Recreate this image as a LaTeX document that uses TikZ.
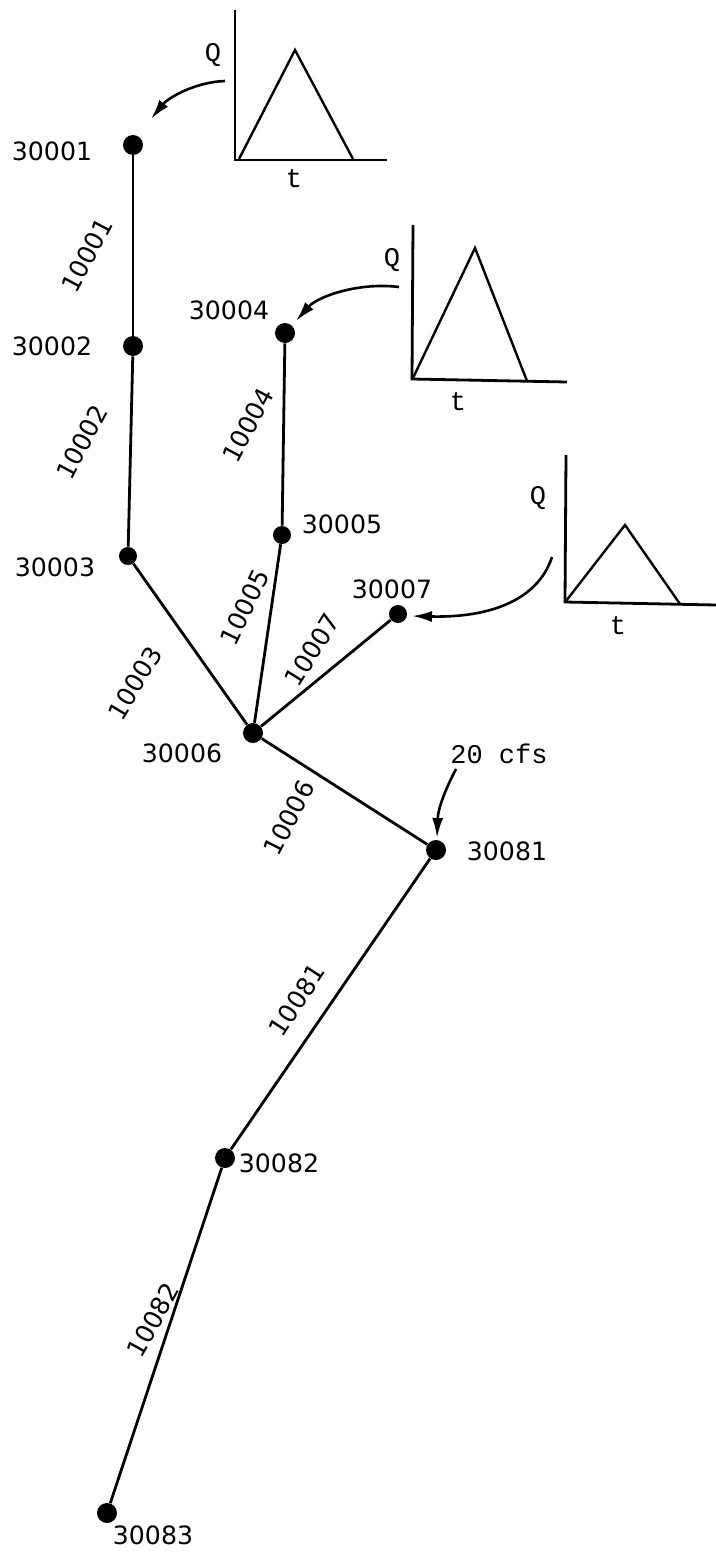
\documentclass[tikz,border=0pt]{standalone}
\usepackage{fontspec}
\setmainfont{DejaVu Sans}
\newfontfamily\cour{Liberation Mono}
\usetikzlibrary{arrows.meta}
\begin{document}
\begin{tikzpicture}[x=0.5pt,y=-0.5pt,
  dot/.style={circle,fill=black,inner sep=0pt,minimum size=10pt},
  pipe/.style={line width=1.4pt},
  lbl/.style={font=\fontsize{12.6}{14}\selectfont,inner sep=1pt},
  elbl/.style={font=\fontsize{12.6}{14}\selectfont,inner sep=0pt},
  cour/.style={font=\cour\fontsize{13.5}{15}\selectfont,inner sep=1pt},
  axis/.style={line width=1.4pt},
  hyd/.style={line width=1.2pt},
  inflow/.style={line width=1.3pt,-{Latex[length=10pt,width=5.5pt]}}]
\useasboundingbox (0,0) rectangle (716,1552);
% junction dots
\node[dot] (n30001) at (133,145) {};
\node[dot] (n30002) at (133,346) {};
\node[dot,minimum size=9pt] (n30003) at (128,556) {};
\node[dot] (n30004) at (285,333) {};
\node[dot,minimum size=9pt] (n30005) at (282,535) {};
\node[dot] (n30006) at (253,733) {};
\node[dot,minimum size=9pt] (n30007) at (398,614) {};
\node[dot] (n30081) at (436,850) {};
\node[dot] (n30082) at (225,1158) {};
\node[dot] (n30083) at (107,1513) {};
% junction labels
\node[lbl] (t30001) at (52,151) {30001};
\node[lbl] (t30002) at (52,346) {30002};
\node[lbl] (t30003) at (55,567) {30003};
\node[lbl] (t30004) at (229,310) {30004};
\node[lbl] (t30005) at (342,524) {30005};
\node[lbl] (t30006) at (182,753) {30006};
\node[lbl] (t30007) at (392,589) {30007};
\node[lbl] (t30081) at (507,851) {30081};
\node[lbl] (t30082) at (279,1163) {30082};
\node[lbl] (t30083) at (153,1535) {30083};
% pipes
\draw[pipe] (n30001) -- (n30002);
\draw[pipe] (n30002) -- (n30003);
\draw[pipe] (n30003) -- (n30006);
\draw[pipe] (n30004) -- (n30005);
\draw[pipe] (n30005) -- (n30006);
\draw[pipe] (n30007) -- (n30006);
\draw[pipe] (n30006) -- (n30081);
\draw[pipe] (n30081) -- (n30082);
\draw[pipe] (n30082) -- (n30083);
% pipe labels
\node[elbl,rotate=62] (p10001) at (87,255) {10001};
\node[elbl,rotate=62] (p10002) at (82,442) {10002};
\node[elbl,rotate=59] (p10003) at (135,683) {10003};
\node[elbl,rotate=62] (p10004) at (248,425) {10004};
\node[elbl,rotate=64] (p10005) at (245,607) {10005};
\node[elbl,rotate=58] (p10007) at (312,650) {10007};
\node[elbl,rotate=63] (p10006) at (289,818) {10006};
\node[elbl,rotate=57] (p10081) at (297,1000) {10081};
\node[elbl,rotate=61] (p10082) at (153,1320) {10082};
% hydrograph 1
\draw[axis] (235,10) -- (235,160) -- (387,160);
\draw[hyd] (239,159) -- (295,50) -- (353,159);
\node[cour] (q1) at (213,55) {Q};
\node[cour] (tt1) at (294,179) {t};
% hydrograph 2
\draw[axis] (413,225) -- (412,379) -- (567,382);
\draw[hyd] (413,378) -- (475,248) -- (527,381);
\node[cour] (q2) at (392,260) {Q};
\node[cour] (tt2) at (458,402) {t};
% hydrograph 3
\draw[axis] (566,455) -- (565,602) -- (716,605);
\draw[hyd] (566,601) -- (625,525) -- (680,604);
\node[cour] (q3) at (538,498) {Q};
\node[cour] (tt3) at (618,626) {t};
% inflow arrows
\coordinate (a1s) at (225,81);
\coordinate (a1e) at (151,119);
\coordinate (a2s) at (399,287);
\coordinate (a2e) at (296,321);
\coordinate (a3s) at (552,557);
\coordinate (a3e) at (412,616);
\coordinate (a4s) at (456,769);
\coordinate (a4e) at (437,838);
\draw[inflow] (a1s) .. controls (195,82) and (168,98) .. (a1e);
\draw[inflow] (a2s) .. controls (360,282) and (318,296) .. (a2e);
\draw[inflow] (a3s) .. controls (538,600) and (490,618) .. (a3e);
\draw[inflow] (a4s) .. controls (446,788) and (438,808) .. (a4e);
\node[cour] (cfs) at (499,754) {20 cfs};
\end{tikzpicture}
\end{document}
